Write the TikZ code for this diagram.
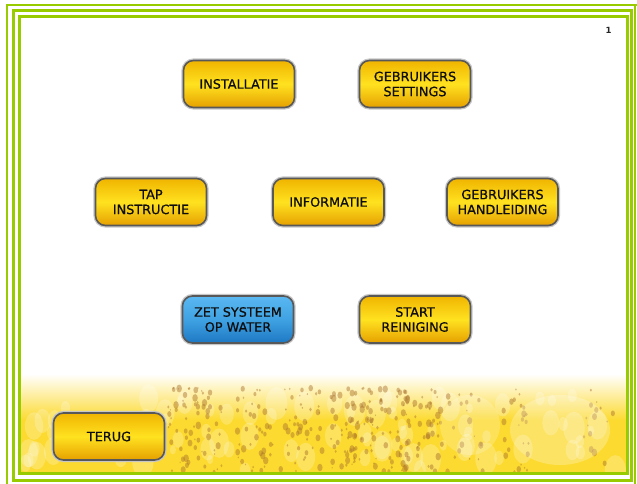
\documentclass[tikz,border=0pt]{standalone}
\usepackage{fontspec}
\setmainfont{DejaVu Sans}
\newfontfamily\btnfont[FakeBold=0.7]{DejaVu Sans}
\usetikzlibrary{shadings}
\definecolor{frameg}{HTML}{99CC00}
\definecolor{btnedge}{HTML}{585858}
\definecolor{ytop}{HTML}{F0B400}
\definecolor{ymid}{HTML}{FFE220}
\definecolor{ybot}{HTML}{E6A000}
\definecolor{btop}{HTML}{5AB8F2}
\definecolor{bmid}{HTML}{3FA2E2}
\definecolor{bbot}{HTML}{1E78C4}
\definecolor{beer}{HTML}{FCDA30}
\definecolor{foam}{HTML}{A8702A}
\tikzset{
  btn/.style={rounded corners=10pt, minimum width=111pt, minimum height=47pt,
    draw=btnedge, line width=1.6pt, align=center, inner sep=0pt,
    font=\btnfont\fontsize{12.8}{15}\selectfont, text=black!95,
    preaction={draw=black!22, line width=4.2pt}},
  ybtn/.style={btn, top color=ytop, bottom color=ybot, middle color=ymid},
  bbtn/.style={btn, top color=btop, bottom color=bbot, middle color=bmid},
  frameline/.style={draw=frameg},
}
\begin{document}
\begin{tikzpicture}[x=1pt,y=-1pt]
\useasboundingbox (0,0) rectangle (637,484);
\fill[white] (0,0) rectangle (637,484);
% beer background
\begin{scope}
  \clip (21,370) rectangle (626,473);
  \shade[top color=white, bottom color=beer] (21,374) rectangle (626,420);
  \fill[beer] (21,419.5) rectangle (626,473);
  \pgfmathsetseed{11}
  \foreach \i in {1,...,90} {
    \pgfmathsetmacro\bx{25+600*rnd}
    \pgfmathsetmacro\by{395+78*rnd}
    \pgfmathsetmacro\br{3+8*rnd}
    \fill[white, opacity=0.22] (\bx,\by) ellipse ({\br} and {1.5*\br});
  }
  \foreach \cx/\w/\n in {195/30/70, 255/20/40, 300/25/45, 370/45/110, 420/25/50, 465/20/20, 515/15/25, 595/20/15} {
    \foreach \i in {1,...,\n} {
      \pgfmathsetmacro\bx{\cx+\w*(rnd-0.5)*1.8}
      \pgfmathsetmacro\by{388+84*rnd}
      \pgfmathsetmacro\br{0.6+2.2*rnd}
      \fill[foam, opacity=0.45] (\bx,\by) ellipse ({\br} and {1.4*\br});
    }
  }
  \fill[white, opacity=0.25] (560,430) ellipse (50 and 35);
  \fill[white, opacity=0.2] (470,425) ellipse (30 and 30);
\end{scope}
% frames
\draw[frameline, line width=2.4pt] (7.2,490) -- (7.2,5.2) -- (640,5.2);
\draw[frameline, line width=3.2pt] (13.5,480.5) -- (13.5,10.8) -- (631.5,10.8) -- (631.5,480.5) -- cycle;
\draw[frameline, line width=3pt] (19.8,473.5) -- (19.8,17) -- (627,17) -- (627,473.5) -- cycle;
\draw[frameline, line width=2.4pt] (635,5.2) -- (635,490);
% page number
\node[font=\fontsize{8.5}{10}\selectfont\bfseries, text=black!85] (pg) at (608.5,30.5) {1};
% buttons
\node[ybtn] (inst) at (239,84) {INSTALLATIE};
\node[ybtn] (gset) at (415,84) {GEBRUIKERS\\SETTINGS};
\node[ybtn] (tap) at (151,202) {TAP\\INSTRUCTIE};
\node[ybtn] (info) at (328.5,202) {INFORMATIE};
\node[ybtn] (ghand) at (502.5,202) {GEBRUIKERS\\HANDLEIDING};
\node[bbtn] (zet) at (238,319.5) {ZET SYSTEEM\\OP WATER};
\node[ybtn] (start) at (415,319.5) {START\\REINIGING};
\node[ybtn] (terug) at (109,436.5) {TERUG};
\end{tikzpicture}
\end{document}
